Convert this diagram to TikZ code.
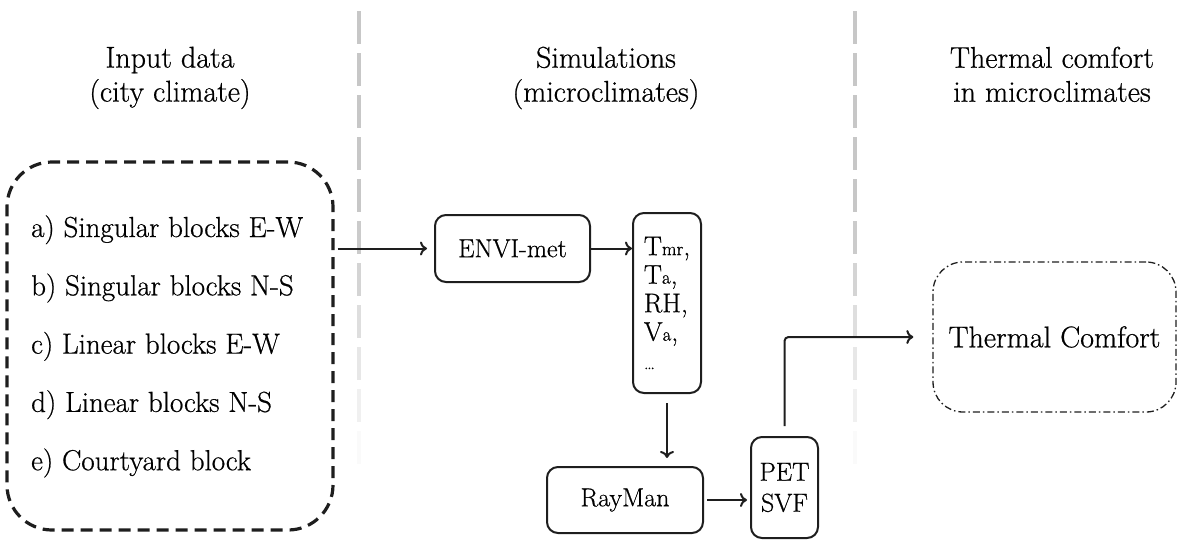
\documentclass[tikz,border=0pt]{standalone}
\usepackage{fontspec}
\setmainfont{Latin Modern Roman}[FakeBold=0.6]
\usetikzlibrary{arrows.meta,calc}
\definecolor{ink}{HTML}{1E1E1E}
\newcommand\smallidx[1]{{\fontsize{19}{19}\selectfont #1}}
\begin{document}
\begin{tikzpicture}[x=1pt,y=-1pt,
  box/.style={draw=ink, line width=2pt, rounded corners=11pt, inner sep=0pt,
              font=\fontsize{26}{31}\selectfont, text=black},
  flow/.style={draw=ink, line width=2pt, -{To[length=7pt,width=14pt]}},
  head/.style={font=\fontsize{30}{34}\selectfont, align=center, anchor=north,
               inner sep=0pt, text=black},
  item/.style={font=\fontsize{29}{34}\selectfont, anchor=base west,
               inner sep=0pt, text=black}]
\useasboundingbox (0,0) rectangle (1180,542);

% column separators, fading towards the bottom
\foreach \xx in {359,855}{
  \foreach \k in {0,...,12}{
    \pgfmathsetmacro\ya{11+42*\k}
    \pgfmathsetmacro\yb{\ya+33}
    \pgfmathsetmacro\fr{max(0,min(1,(\ya+16-220)/250))}
    \pgfmathsetmacro\shd{22*(1-\fr)}
    \draw[line width=4.5pt, draw=black!\shd] (\xx,\ya) -- (\xx,\yb);
  }
}

% column headings
\node[head] (h1) at (170,46.5) {Input data\\(city climate)};
\node[head] (h2) at (606,46.5) {Simulations\\(microclimates)};
\node[head] (h3) at (1052,46.5) {Thermal comfort\\in microclimates};

% input cases
\node[draw=ink, line width=3.2pt, dash pattern=on 12pt off 7pt,
      rounded corners=45pt, minimum width=326pt, minimum height=368pt]
      (inputs) at (170,346) {};
\node[item] (ia) at (31,237)   {a) Singular blocks E-W};
\node[item] (ib) at (31,295.3) {b) Singular blocks N-S};
\node[item] (ic) at (31,353.6) {c) Linear blocks E-W};
\node[item] (id) at (31,411.9) {d) Linear blocks N-S};
\node[item] (ie) at (31,470.2) {e) Courtyard block};

% simulation chain
\node[box, minimum width=155pt, minimum height=67pt] (envi) at (512.5,248.5) {ENVI-met};
\node[box, minimum width=68pt, minimum height=180pt, align=left,
      font=\fontsize{27}{28.5}\selectfont] (vars) at (667,303)
      {T\smallidx{mr},\\T\smallidx{a},\\RH,\\V\smallidx{a},\\\smallidx{\ldots}};
\node[box, minimum width=156pt, minimum height=66pt] (ray) at (625,500) {RayMan};
\node[box, minimum width=67pt, minimum height=101pt, align=center] (pet) at (784.5,487.5) {PET\\SVF};

% result
\node[draw=ink, line width=1.3pt, dash pattern=on 7pt off 3pt on 1.5pt off 3pt,
      rounded corners=30pt, minimum width=243pt, minimum height=150pt,
      font=\fontsize{30}{34}\selectfont, text=black] (comfort) at (1054.5,337) {Thermal Comfort};

% connectors
\draw[flow, shorten <=3pt, shorten >=7pt] (inputs.east |- envi.west) -- (envi.west);
\draw[flow] (envi.east) -- (envi.east -| vars.west);
\draw[flow, shorten <=9pt, shorten >=8pt] (vars.south) -- (vars.south |- ray.north);
\draw[flow, shorten <=3pt, shorten >=3pt] (ray.east) -- (ray.east -| pet.west);
\draw[flow, rounded corners=4pt, shorten <=10pt, shorten >=19pt] (pet.north) |- (comfort.west);
\end{tikzpicture}
\end{document}
